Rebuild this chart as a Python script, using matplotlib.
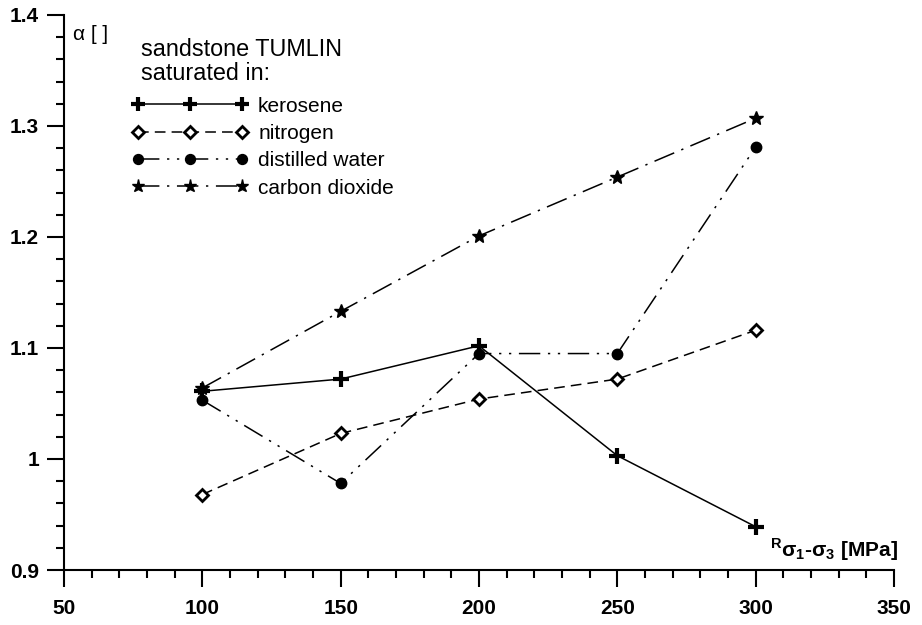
import matplotlib.pyplot as plt
from matplotlib.ticker import MultipleLocator
import numpy as np

plt.rcParams['font.family'] = ['Liberation Sans', 'DejaVu Sans']

# stress difference [MPa]
stress = [100, 150, 200, 250, 300]
kerosene = [1.061, 1.072, 1.102, 1.003, 0.939]
nitrogen = [0.968, 1.023, 1.054, 1.072, 1.116]
water = [1.053, 0.978, 1.095, 1.095, 1.281]
co2 = [1.064, 1.133, 1.201, 1.254, 1.307]

fig = plt.figure(figsize=(9.22, 6.25), dpi=100)
ax = fig.add_axes([0.0694, 0.088, 0.9002, 0.888])

ax.plot(stress, kerosene, color="black", lw=1.1, marker="+", ms=11, mew=3,
        label="kerosene")
ax.plot(stress, nitrogen, color="black", lw=1.1, dashes=(7, 4), marker="D", ms=6,
        mfc="white", mec="black", mew=2, label="nitrogen")
ax.plot(stress, water, color="black", lw=1.1, dashes=(14, 5, 1.5, 5, 1.5, 5), marker="o", ms=7.5,
        label="distilled water")
ax.plot(stress, co2, color="black", lw=1.1, dashes=(14, 5, 1.5, 5), marker="*", ms=10,
        label="carbon dioxide")

ax.set_xlim(50, 350)
ax.set_ylim(0.9, 1.4)
ax.xaxis.set_major_locator(MultipleLocator(50))
ax.xaxis.set_minor_locator(MultipleLocator(10))
ax.yaxis.set_minor_locator(MultipleLocator(0.02))
ax.set_yticks([0.9, 1.0, 1.1, 1.2, 1.3, 1.4])
ax.set_yticklabels(["0.9", "1", "1.1", "1.2", "1.3", "1.4"])

for s in ["top", "right"]:
    ax.spines[s].set_visible(False)
for s in ["left", "bottom"]:
    ax.spines[s].set_linewidth(1.5)
ax.tick_params(which="major", length=12, width=1.5, labelsize=15)
ax.tick_params(which="minor", length=6, width=1.5)
ax.tick_params(axis="x", which="major", pad=9)
ax.tick_params(axis="y", which="major", pad=6)
for lab in ax.get_xticklabels() + ax.get_yticklabels():
    lab.set_fontweight("bold")

ax.text(0.011, 0.964, "α [ ]", transform=ax.transAxes, fontsize=15, va="center")
ax.text(1.005, 0.036, r"$^{\mathregular{R}}\mathregular{\sigma_1}$-$\mathregular{\sigma_3}$ [MPa]",
        transform=ax.transAxes, fontsize=15, fontweight="bold", ha="right", va="center")

# legend title
ax.text(0.093, 0.937, "sandstone TUMLIN", transform=ax.transAxes, fontsize=16.8, va="center")
ax.text(0.093, 0.895, "saturated in:", transform=ax.transAxes, fontsize=16.8, va="center")

leg = ax.legend(loc="upper left", bbox_to_anchor=(0.082, 0.853), frameon=False, numpoints=3,
                handlelength=5.6, fontsize=15, labelspacing=0.4, handletextpad=0.45,
                borderaxespad=0, borderpad=0, markerscale=0.95)

fig.savefig("out.png", dpi=100)
